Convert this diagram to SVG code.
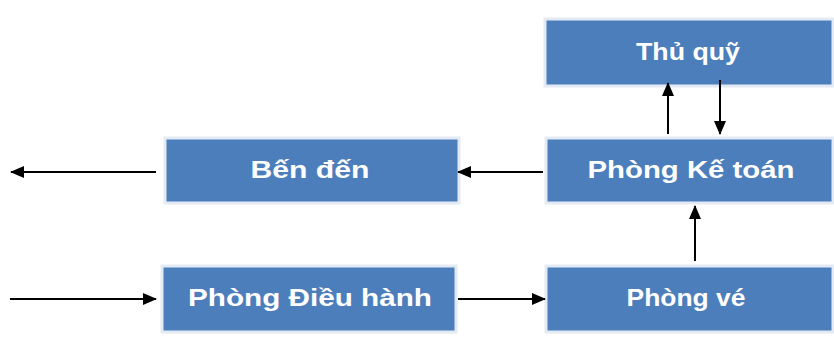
<svg xmlns="http://www.w3.org/2000/svg" width="834" height="338" viewBox="0 0 834 338">
<defs>
<style>
.box{fill:#4c7ebc;stroke:#e3eaf3;stroke-width:3}
.lbl{font-family:"Liberation Sans",Arial,sans-serif;font-weight:bold;font-size:24px;fill:#ffffff;text-anchor:middle;dominant-baseline:central}
.con{stroke:#000;stroke-width:2;fill:none;marker-end:url(#ah)}
</style>
<marker id="ah" viewBox="0 0 14 12" refX="13" refY="6" markerWidth="14" markerHeight="12" markerUnits="userSpaceOnUse" orient="auto">
<path d="M0,0 L14,6 L0,12 z" fill="#000"/>
</marker>
</defs>
<rect width="834" height="338" fill="#ffffff"/>
<g id="thu-quy">
<rect class="box" x="545" y="19" width="288" height="67"/>
<text class="lbl" x="688" y="51" textLength="104" lengthAdjust="spacingAndGlyphs">Thủ quỹ</text>
</g>
<g id="ben-den">
<rect class="box" x="165" y="138" width="294" height="65"/>
<text class="lbl" x="310" y="169" textLength="119" lengthAdjust="spacingAndGlyphs">Bến đến</text>
</g>
<g id="phong-ke-toan">
<rect class="box" x="546" y="138" width="287" height="65"/>
<text class="lbl" x="691" y="169" textLength="207" lengthAdjust="spacingAndGlyphs">Phòng Kế toán</text>
</g>
<g id="phong-dieu-hanh">
<rect class="box" x="162" y="266" width="294" height="66"/>
<text class="lbl" x="310" y="297" textLength="244" lengthAdjust="spacingAndGlyphs">Phòng Điều hành</text>
</g>
<g id="phong-ve">
<rect class="box" x="546" y="266" width="287" height="66"/>
<text class="lbl" x="686" y="297" textLength="119" lengthAdjust="spacingAndGlyphs">Phòng vé</text>
</g>
<g id="connectors">
<line class="con" x1="156" y1="172" x2="11" y2="172"/>
<line class="con" x1="543" y1="172" x2="458" y2="172"/>
<line class="con" x1="10" y1="299" x2="156" y2="299"/>
<line class="con" x1="458" y1="299" x2="545" y2="299"/>
<line class="con" x1="695" y1="261" x2="695" y2="206"/>
<line class="con" x1="668" y1="134" x2="668" y2="83"/>
<line class="con" x1="720" y1="80" x2="720" y2="134"/>
</g>
</svg>
